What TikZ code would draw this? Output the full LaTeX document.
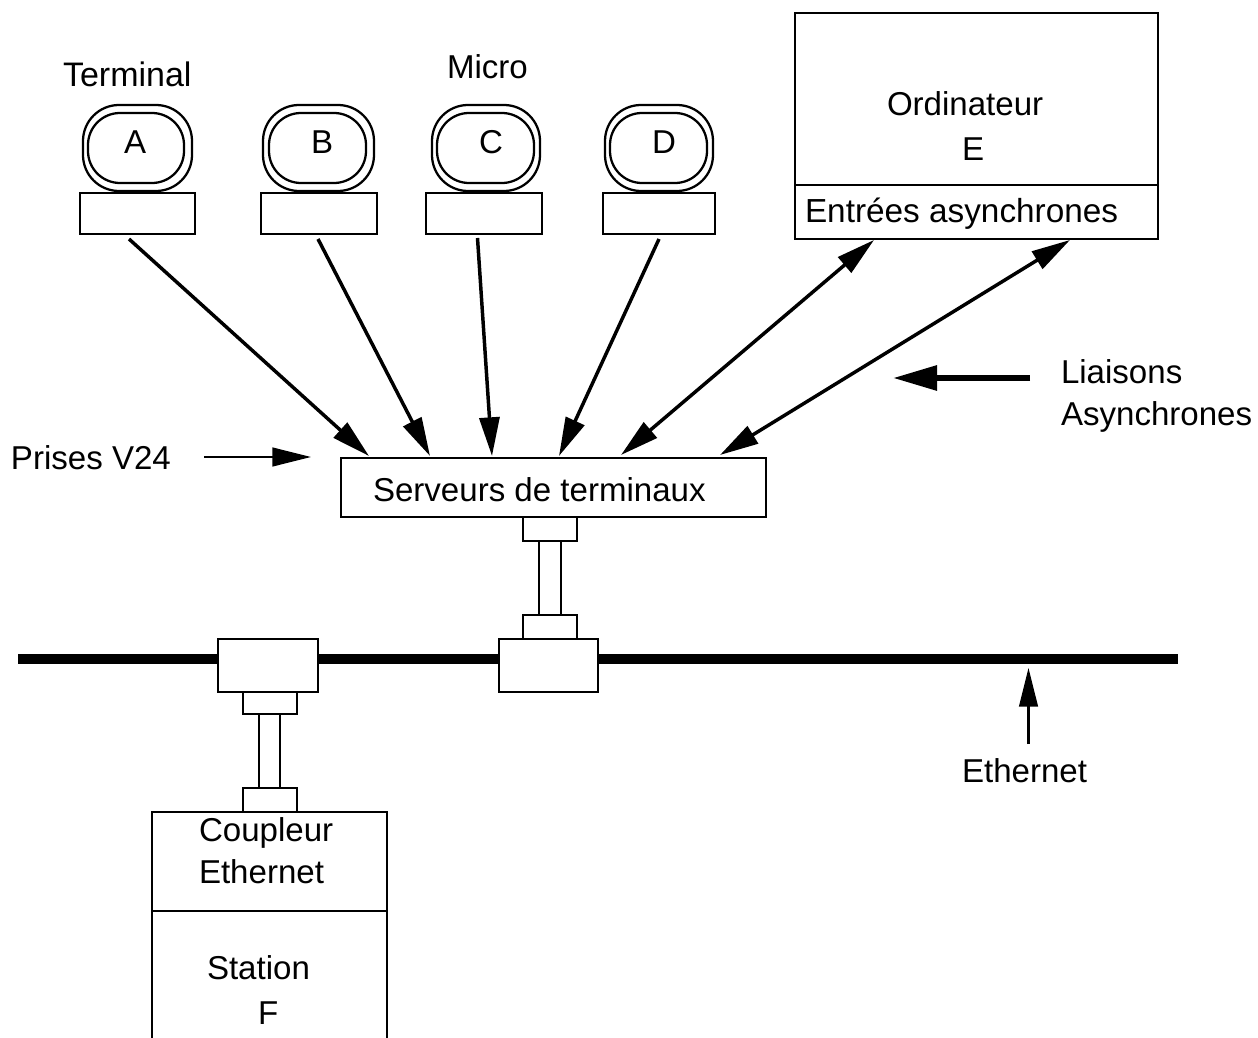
\documentclass[tikz,border=0pt]{standalone}
\usepackage{fontspec}
\setmainfont{Liberation Sans}
\usetikzlibrary{arrows.meta,positioning}
\tikzset{
  x=0.75pt,y=-0.75pt,
  lbl/.style={anchor=base west,inner sep=0pt,outer sep=0pt,font=\fontsize{24.8}{30}\selectfont},
  boxp/.style={draw=black,line width=1.8pt,fill=white,outer sep=0pt},
  screen/.style={draw=black,line width=1.7pt,fill=white,rounded corners=27pt},
  link/.style={draw=black,line width=2.6pt,-{Triangle[length=29pt,width=15pt]}},
  biglink/.style={draw=black,line width=2.6pt,{Triangle[length=29pt,width=15pt]}-{Triangle[length=29pt,width=15pt]}},
  note/.style={draw=black,line width=1.8pt,-{Triangle[length=29pt,width=14pt]}},
  fat/.style={draw=black,line width=4.5pt,-{Triangle[length=33pt,width=18pt]}},
}
\newcommand{\rbox}[6][boxp]{\path[#1] (#3,#4) rectangle (#5,#6);
  \coordinate (#2) at ({(#3+#5)/2},{(#4+#6)/2});}
\begin{document}
\begin{tikzpicture}
\useasboundingbox (0,0) rectangle (1258,1038);
% Ethernet bus
\coordinate (busL) at (18,659);
\coordinate (busR) at (1178,659);
\draw[line width=7.7pt] (busL) -- (busR);
% terminals
\foreach \n/\ox/\oX/\ix/\iX/\bx/\bX in {A/83/192/88/184/80/195, B/263/374/269/366/261/377, C/432/540/437/534/426/542, D/605/713/610/707/603/715}{
  \path[screen] (\ox,105) rectangle (\oX,191);
  \path[screen,rounded corners=24pt] (\ix,113) rectangle (\iX,183);
  \path[boxp] (\bx,193) rectangle (\bX,234);
}
\node[lbl] (tA) at (124,154) {A};
\node[lbl] (tB) at (311,154) {B};
\node[lbl] (tC) at (479,154) {C};
\node[lbl] (tD) at (652,154) {D};
\node[lbl,font=\fontsize{25.5}{30}\selectfont] (lTerm) at (63,87) {Terminal};
\node[lbl] (lMicro) at (447,79) {Micro};
% computer
\node[boxp,anchor=north west,minimum width=272.25pt,minimum height=169.5pt,inner sep=0pt] (ord) at (795,13) {};
\coordinate (ordDivL) at (795,185);
\coordinate (ordDivR) at (1158,185);
\draw[line width=1.8pt] (ordDivL) -- (ordDivR);
\node[lbl] (lOrd) at (887,116) {Ordinateur};
\node[lbl] (lE) at (962,161) {E};
\node[lbl,font=\fontsize{25}{30}\selectfont] (lEnt) at (805,223) {Entrées asynchrones};
% server
\node[boxp,anchor=north west,minimum width=318.75pt,minimum height=44.25pt,inner sep=0pt] (srv) at (341,458) {};
\node[lbl] (lSrv) at (373,501) {Serveurs de terminaux};
% server tap
\rbox{s1}{523}{517}{577}{541}
\rbox{s2}{539}{541}{561}{615}
\rbox{s3}{523}{615}{577}{639}
\rbox{s4}{499}{639}{598}{692}
% station tap
\rbox{t1}{218}{639}{318}{692}
\rbox{t2}{243}{692}{297}{714}
\rbox{t3}{259}{714}{280}{788}
\rbox{t4}{243}{788}{297}{812}
% station
\coordinate (stBL) at (152,1038);
\coordinate (stTL) at (152,812);
\coordinate (stTR) at (387,812);
\coordinate (stBR) at (387,1038);
\draw[line width=1.8pt] (stBL) -- (stTL) -- (stTR) -- (stBR);
\coordinate (stDL) at (152,911);
\coordinate (stDR) at (387,911);
\draw[line width=1.8pt] (stDL) -- (stDR);
\node[lbl] (lCou) at (199,841) {Coupleur};
\node[lbl] (lEth2) at (199,883) {Ethernet};
\node[lbl] (lSta) at (207,979) {Station};
\node[lbl] (lF) at (258,1024) {F};
% arrows
\coordinate (a1) at (129,239); \coordinate (a2) at (369,456);
\coordinate (b1) at (318,239); \coordinate (b2) at (430,456);
\coordinate (c1) at (477.5,238); \coordinate (c2) at (492,456);
\coordinate (d1) at (659,239); \coordinate (d2) at (559,456);
\coordinate (e1) at (874,240); \coordinate (e2) at (621,455);
\coordinate (f1) at (1070,240); \coordinate (f2) at (720,455);
\draw[link] (a1) -- (a2);
\draw[link] (b1) -- (b2);
\draw[link] (c1) -- (c2);
\draw[link] (d1) -- (d2);
\draw[biglink] (e1) -- (e2);
\draw[biglink] (f1) -- (f2);
% notes
\node[lbl] (lPri) at (11,469) {Prises V24};
\coordinate (p1) at (204,457); \coordinate (p2) at (311,457);
\draw[note] (p1) -- (p2);
\node[lbl] (lLia) at (1061,383) {Liaisons};
\node[lbl] (lAsy) at (1061,426) {Asynchrones};
\coordinate (q1) at (1030,378); \coordinate (q2) at (893,378);
\draw[fat] (q1) -- (q2);
\node[lbl] (lEth) at (962,782) {Ethernet};
\coordinate (r1) at (1028.5,744); \coordinate (r2) at (1028.5,668);
\draw[note] (r1) -- (r2);
\end{tikzpicture}
\end{document}
